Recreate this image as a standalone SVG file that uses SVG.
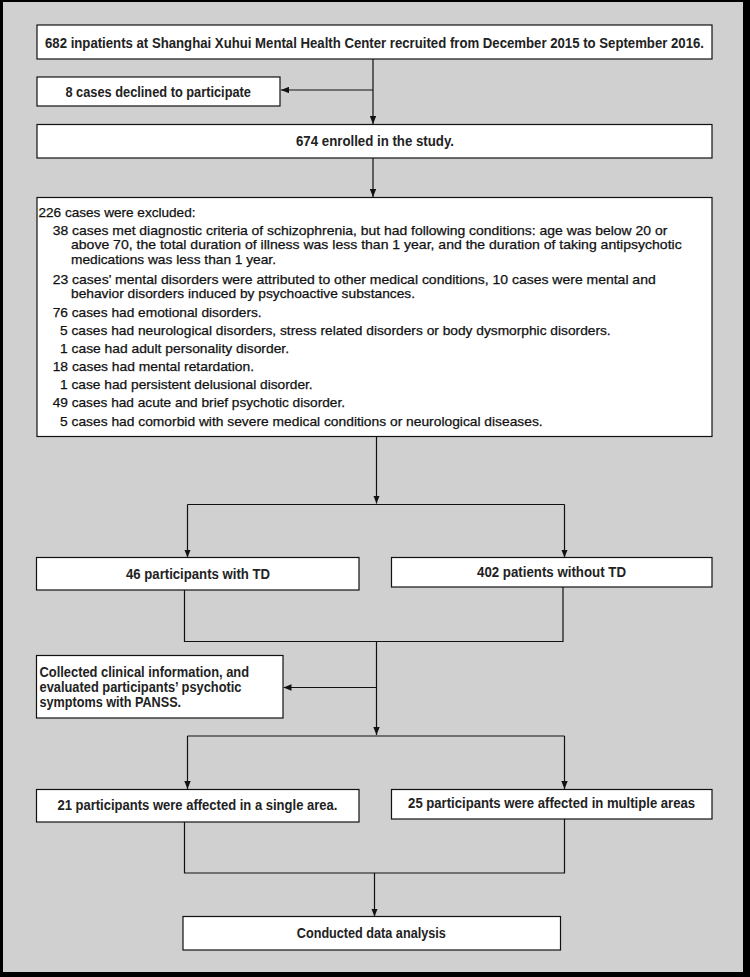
<svg xmlns="http://www.w3.org/2000/svg" width="750" height="977" viewBox="0 0 750 977">
<style>
.box{fill:#ffffff;stroke:#111;stroke-width:1.2}
.n{font-family:"Liberation Sans",Arial,sans-serif;font-size:14px;font-weight:bold;fill:#222}
.c{text-anchor:middle}
.x{font-family:"Liberation Sans",Arial,sans-serif;font-size:13px;fill:#111;stroke:#111;stroke-width:0.25}
.ln{fill:none;stroke:#111;stroke-width:1.2}
.ar{marker-end:url(#ah)}
</style>
<defs>
<marker id="ah" viewBox="0 0 10 8" refX="10" refY="4" markerWidth="8" markerHeight="6.4" markerUnits="userSpaceOnUse" orient="auto">
<path d="M0,0 L10,4 L0,8 z" fill="#111"/>
</marker>
</defs>
<rect x="0" y="0" width="750" height="977" fill="#000"/>
<rect x="3" y="2" width="740" height="970" fill="#d0d0d0"/>

<g id="connectors">
<path class="ln ar" d="M373,59 V124"/>
<path class="ln ar" d="M373,90 H281"/>
<path class="ln ar" d="M373,158 V197"/>
<path class="ln ar" d="M376.5,437 V503.5"/>
<path class="ln" d="M187.5,504.5 H564.5"/>
<path class="ln ar" d="M187.5,504.5 V557.5"/>
<path class="ln ar" d="M564.5,504.5 V557.5"/>
<path class="ln" d="M184.5,590 V641.5 H563 V587"/>
<path class="ln ar" d="M376.5,641.5 V735"/>
<path class="ln ar" d="M376.5,687.5 H283.5"/>
<path class="ln" d="M187.5,736 H564.5"/>
<path class="ln ar" d="M187.5,736 V789"/>
<path class="ln ar" d="M564.5,736 V789"/>
<path class="ln" d="M184.5,822 V873 H564.5 V819"/>
<path class="ln ar" d="M374.5,873 V916.5"/>
</g>

<g id="recruited">
<rect class="box" x="37" y="25" width="675" height="34"/>
<text class="n c" x="374.5" y="48" textLength="659" lengthAdjust="spacingAndGlyphs">682 inpatients at Shanghai Xuhui Mental Health Center recruited from December 2015 to September 2016.</text>
</g>

<g id="declined">
<rect class="box" x="37" y="77" width="243" height="29"/>
<text class="n c" x="158.2" y="96.5" textLength="185.5" lengthAdjust="spacingAndGlyphs">8 cases declined to participate</text>
</g>

<g id="enrolled">
<rect class="box" x="37" y="124.5" width="675" height="33.5"/>
<text class="n c" x="375" y="146" textLength="158" lengthAdjust="spacingAndGlyphs">674 enrolled in the study.</text>
</g>

<g id="excluded">
<rect class="box" x="37" y="197.5" width="675" height="239"/>
<text class="x" x="38.5" y="216.5" textLength="157" lengthAdjust="spacingAndGlyphs">226 cases were excluded:</text>
<text class="x" x="52.7" y="234.5" textLength="614.6" lengthAdjust="spacingAndGlyphs">38 cases met diagnostic criteria of schizophrenia, but had following conditions: age was below 20 or</text>
<text class="x" x="71" y="249" textLength="610.7" lengthAdjust="spacingAndGlyphs">above 70, the total duration of illness was less than 1 year, and the duration of taking antipsychotic</text>
<text class="x" x="71" y="263.5" textLength="205" lengthAdjust="spacingAndGlyphs">medications was less than 1 year.</text>
<text class="x" x="52.7" y="283.5" textLength="603" lengthAdjust="spacingAndGlyphs">23 cases’ mental disorders were attributed to other medical conditions, 10 cases were mental and</text>
<text class="x" x="71" y="298" textLength="344" lengthAdjust="spacingAndGlyphs">behavior disorders induced by psychoactive substances.</text>
<text class="x" x="52.7" y="316.5" textLength="209" lengthAdjust="spacingAndGlyphs">76 cases had emotional disorders.</text>
<text class="x" x="60" y="334.5" textLength="550.7" lengthAdjust="spacingAndGlyphs">5 cases had neurological disorders, stress related disorders or body dysmorphic disorders.</text>
<text class="x" x="60" y="353" textLength="229" lengthAdjust="spacingAndGlyphs">1 case had adult personality disorder.</text>
<text class="x" x="52.7" y="371" textLength="201.3" lengthAdjust="spacingAndGlyphs">18 cases had mental retardation.</text>
<text class="x" x="60" y="389" textLength="252.7" lengthAdjust="spacingAndGlyphs">1 case had persistent delusional disorder.</text>
<text class="x" x="52.7" y="407" textLength="292.3" lengthAdjust="spacingAndGlyphs">49 cases had acute and brief psychotic disorder.</text>
<text class="x" x="60" y="425.5" textLength="482.7" lengthAdjust="spacingAndGlyphs">5 cases had comorbid with severe medical conditions or neurological diseases.</text>
</g>

<g id="withTD">
<rect class="box" x="36.5" y="557.5" width="322.5" height="32.5"/>
<text class="n c" x="198" y="579" textLength="144" lengthAdjust="spacingAndGlyphs">46 participants with TD</text>
</g>

<g id="withoutTD">
<rect class="box" x="391.5" y="557.5" width="320.5" height="29.5"/>
<text class="n c" x="551.5" y="577" textLength="149" lengthAdjust="spacingAndGlyphs">402 patients without TD</text>
</g>

<g id="collected">
<rect class="box" x="36.5" y="655.5" width="246.5" height="62.5"/>
<text class="n" x="39.5" y="676.5" textLength="209.6" lengthAdjust="spacingAndGlyphs">Collected clinical information, and</text>
<text class="n" x="39.5" y="691.5" textLength="202" lengthAdjust="spacingAndGlyphs">evaluated participants’ psychotic</text>
<text class="n" x="39.5" y="706.5" textLength="141.6" lengthAdjust="spacingAndGlyphs">symptoms with PANSS.</text>
</g>

<g id="single">
<rect class="box" x="36.5" y="789.5" width="322.5" height="32.5"/>
<text class="n c" x="197.4" y="810" textLength="280" lengthAdjust="spacingAndGlyphs">21 participants were affected in a single area.</text>
</g>

<g id="multiple">
<rect class="box" x="391.5" y="789.5" width="320.5" height="29.5"/>
<text class="n c" x="551.6" y="808.3" textLength="287" lengthAdjust="spacingAndGlyphs">25 participants were affected in multiple areas</text>
</g>

<g id="analysis">
<rect class="box" x="183" y="916.5" width="377.5" height="33.5"/>
<text class="n c" x="371.3" y="938" textLength="149" lengthAdjust="spacingAndGlyphs">Conducted data analysis</text>
</g>
</svg>
